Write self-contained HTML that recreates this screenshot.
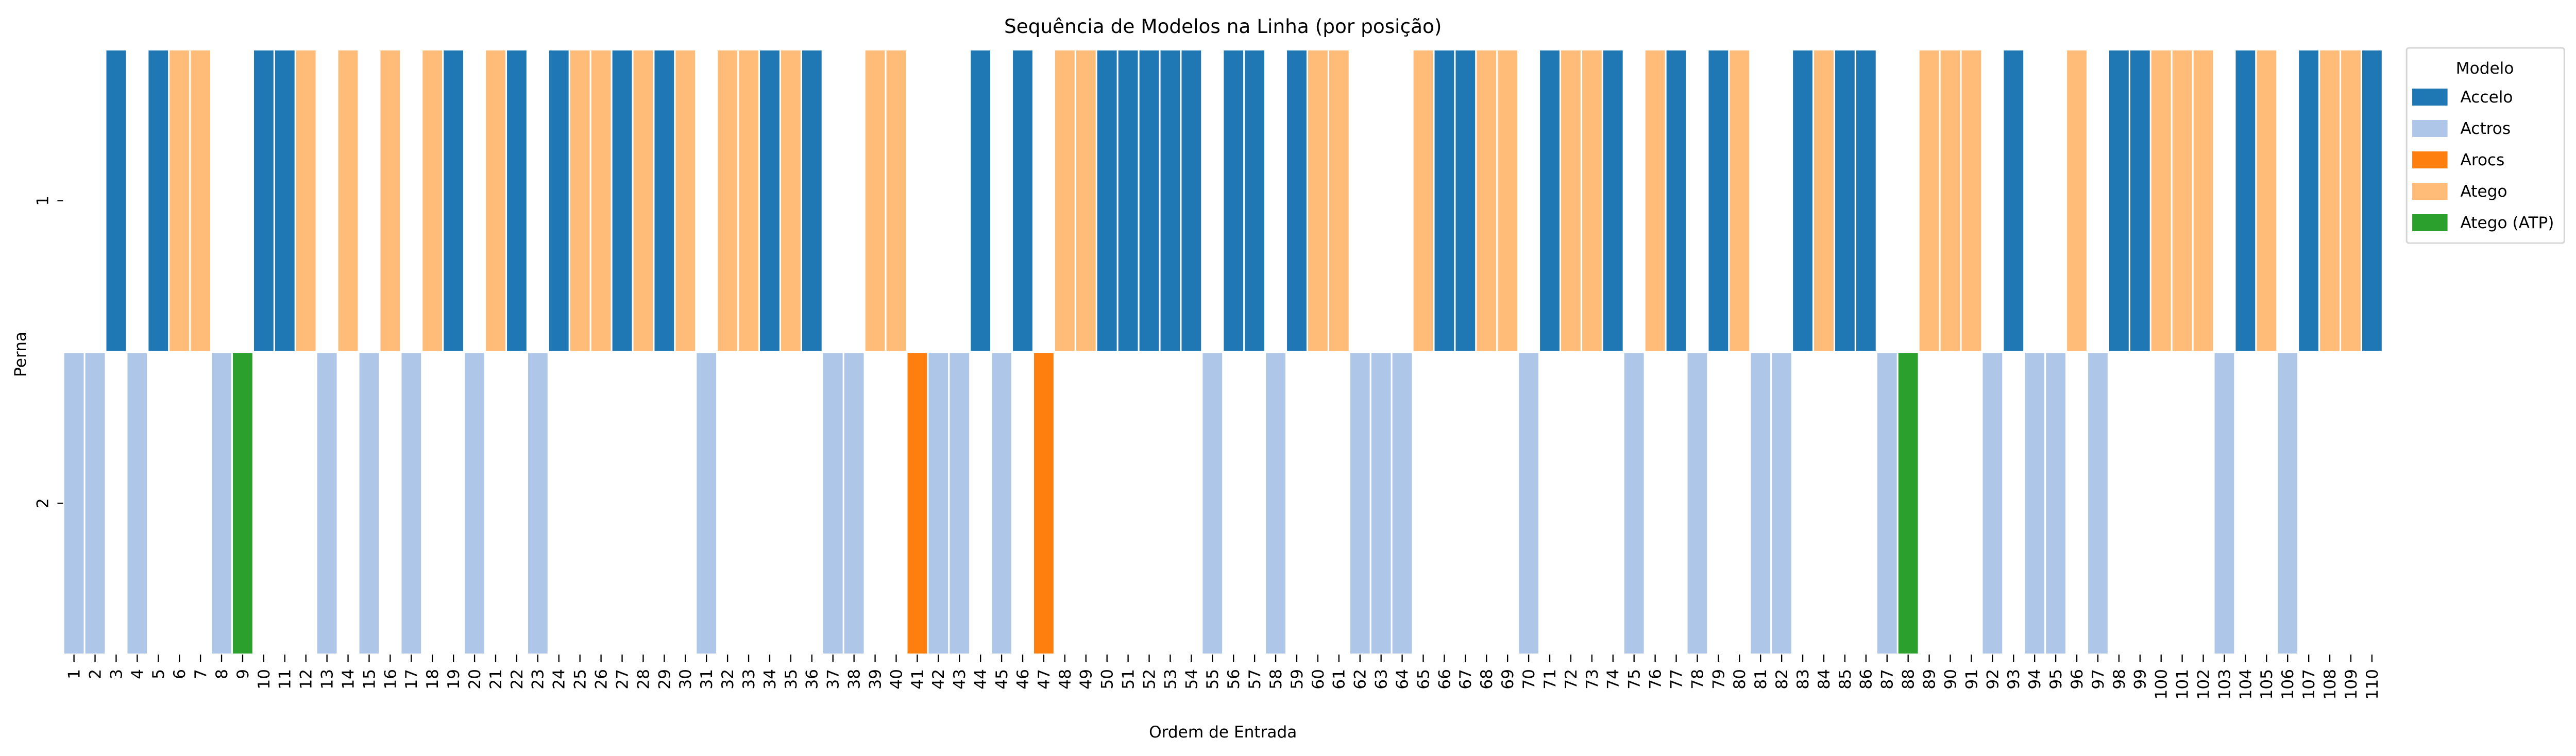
<!DOCTYPE html>
<html><head><meta charset="utf-8"><style>
html,body{margin:0;padding:0;background:#fff;width:100%;height:100%;overflow:hidden;}
svg{display:block;position:absolute;left:0;top:0;font-family:"DejaVu Sans","Liberation Sans",sans-serif;}
</style></head><body>
<svg id="chart" xmlns="http://www.w3.org/2000/svg">
<text id="title" text-anchor="middle">Sequência de Modelos na Linha (por posição)</text>
<g id="cells"></g>
<g id="xticks"></g>
<g id="yticks"></g>
<text id="xtitle" text-anchor="middle">Ordem de Entrada</text>
<text id="ytitle" text-anchor="middle">Perna</text>
<g>
<rect id="lframe" fill="#fff" stroke="#d6d6d6"/>
<text id="ltitle" text-anchor="middle">Modelo</text>
<g id="legend-entries"></g>
</g>
</svg>
<script>
const models = ["Accelo","Actros","Arocs","Atego","Atego (ATP)"];
const modelColors = ["#1f77b4","#aec7e8","#ff7f0e","#ffbb78","#2ca02c"];
const pernaLabels = ["1","2"];
// modelo index per position 1..110 (A=0,T=1,R=2,G=3,P=4)
const modelo = [1,1,0,1,0,3,3,1,4,0, 0,3,1,3,1,3,1,3,0,1, 3,0,1,0,3,3,0,3,0,3,
 1,3,3,0,3,0,1,1,3,3, 2,1,1,0,1,0,2,3,3,0, 0,0,0,0,1,0,0,1,0,3,
 3,1,1,1,3,0,0,3,3,1, 0,3,3,0,1,3,0,1,0,3, 1,1,0,3,0,0,1,4,3,3,
 3,1,0,1,1,3,1,0,0,3, 3,3,1,0,3,1,0,3,3,0];
// perna (row) per position
const perna = [2,2,1,2,1,1,1,2,2,1, 1,1,2,1,2,1,2,1,1,2, 1,1,2,1,1,1,1,1,1,1,
 2,1,1,1,1,1,2,2,1,1, 2,2,2,1,2,1,2,1,1,1, 1,1,1,1,2,1,1,2,1,1,
 1,2,2,2,1,1,1,1,1,2, 1,1,1,1,2,1,1,2,1,1, 2,2,1,1,1,1,2,2,1,1,
 1,2,1,2,2,1,2,1,1,1, 1,1,2,1,1,2,1,1,1,1];
const positions = modelo.map((_, i) => String(i + 1));

const NS = "http://www.w3.org/2000/svg";
const W = window.innerWidth || 6416, H = window.innerHeight || 1468;
const svg = document.getElementById("chart");
svg.setAttribute("width", W); svg.setAttribute("height", H);
const sx = W / 6416, sy = H / 1468, sf = Math.min(sx, sy);
const X = v => v * sx, Y = v => v * sy, F = v => v * sf;

const X0 = 158, X1 = 5934, Y0 = 96, Y1 = 1271;
const n = positions.length;
const pitch = (X1 - X0) / n;
const rowH = (Y1 - Y0) / pernaLabels.length;
const xScale = i => X0 + i * pitch;
const yScale = r => Y0 + (r - 1) * rowH;

function setA(el, o){ for (const k in o) el.setAttribute(k, o[k]); }
setA(document.getElementById("title"), {x: X(3046), y: Y(64), "font-size": F(48)});
setA(document.getElementById("xtitle"), {x: X(3046), y: Y(1432), "font-size": F(40)});
setA(document.getElementById("ytitle"), {transform: `translate(${X(64)},${Y(688)}) rotate(-90)`, "font-size": F(40)});
setA(document.getElementById("lframe"), {x: X(5994), y: Y(93), width: X(393), height: Y(379), rx: F(6), "stroke-width": F(4)});
setA(document.getElementById("ltitle"), {x: X(6189), y: Y(143), "font-size": F(40)});

const cells = document.getElementById("cells");
for (let i = 0; i < n; i++) {
  const r = document.createElementNS(NS, "rect");
  setA(r, {x: X(xScale(i) + 2), y: Y(yScale(perna[i]) + 2), width: X(pitch - 4), height: Y(rowH - 4), fill: modelColors[modelo[i]]});
  
  
  cells.appendChild(r);
}
const xt = document.getElementById("xticks");
for (let i = 0; i < n; i++) {
  const cx = xScale(i) + pitch / 2;
  const l = document.createElementNS(NS, "line");
  setA(l, {x1: X(cx), x2: X(cx), y1: Y(Y1), y2: Y(Y1 + 14), stroke: "#000", "stroke-width": F(3)});
  
  
  xt.appendChild(l);
  const t = document.createElementNS(NS, "text");
  setA(t, {transform: `translate(${X(cx) + F(14)},${Y(Y1 + 28)}) rotate(-90)`, "font-size": F(40), "text-anchor": "end"});
  t.textContent = positions[i];
  
  
  xt.appendChild(t);
}
const yt = document.getElementById("yticks");
pernaLabels.forEach((lab, k) => {
  const cy = yScale(k + 1) + rowH / 2;
  const l = document.createElementNS(NS, "line");
  setA(l, {x1: X(143), x2: X(157), y1: Y(cy), y2: Y(cy), stroke: "#000", "stroke-width": F(3)});
  
  
  yt.appendChild(l);
  const t = document.createElementNS(NS, "text");
  setA(t, {transform: `translate(${X(120)},${Y(cy)}) rotate(-90)`, "font-size": F(40), "text-anchor": "middle"});
  t.textContent = lab;
  
  
  yt.appendChild(t);
});
const le = document.getElementById("legend-entries");
models.forEach((m, k) => {
  const cy = 188 + k * 61;
  const r = document.createElementNS(NS, "rect");
  setA(r, {x: X(6008), y: Y(cy - 16), width: X(88), height: Y(33), fill: modelColors[k]});
  
  
  le.appendChild(r);
  const t = document.createElementNS(NS, "text");
  setA(t, {x: X(6128), y: Y(cy) + F(14), "font-size": F(40)});
  t.textContent = m;
  
  
  le.appendChild(t);
});
</script>
</body></html>
